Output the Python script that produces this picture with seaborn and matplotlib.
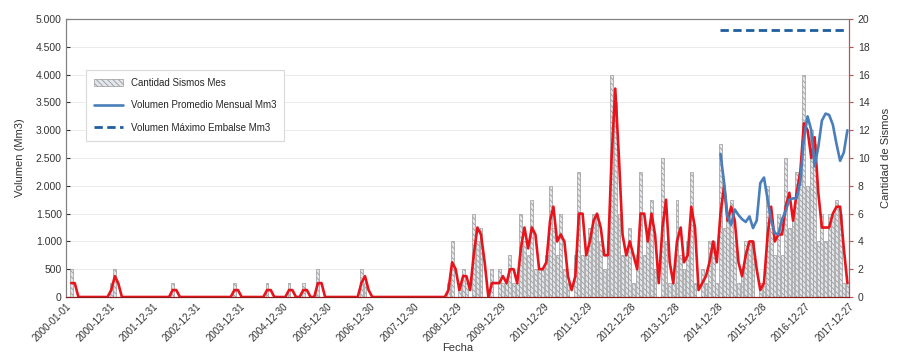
import pandas as pd
import matplotlib
matplotlib.use("Agg")
import matplotlib.pyplot as plt
import matplotlib.ticker as mticker
from matplotlib.patches import Patch
from matplotlib.lines import Line2D
import seaborn as sns

# monthly earthquake counts, 2000-02 .. 2017-12 (one row per year)
sismos_mes = (
    [2, 0, 0, 0, 0, 0, 0, 0, 0, 0, 0]                      # 2000 (Feb-Dec)
    + [1, 2, 0, 0, 0, 0, 0, 0, 0, 0, 0, 0]                 # 2001
    + [0, 0, 0, 0, 0, 1, 0, 0, 0, 0, 0, 0]                 # 2002
    + [0, 0, 0, 0, 0, 0, 0, 0, 0, 0, 1, 0]                 # 2003
    + [0, 0, 0, 0, 0, 0, 0, 1, 0, 0, 0, 0]                 # 2004
    + [0, 1, 0, 0, 0, 1, 0, 0, 0, 2, 0, 0]                 # 2005
    + [0, 0, 0, 0, 0, 0, 0, 0, 0, 2, 1, 0]                 # 2006
    + [0, 0, 0, 0, 0, 0, 0, 0, 0, 0, 0, 0]                 # 2007
    + [0, 0, 0, 0, 0, 0, 0, 0, 0, 1, 4, 0]                 # 2008
    + [1, 2, 1, 0, 6, 4, 5, 0, 0, 2, 0, 2]                 # 2009
    + [1, 1, 3, 1, 1, 6, 4, 3, 7, 2, 2, 2]                 # 2010
    + [3, 8, 5, 3, 6, 2, 1, 0, 3, 9, 3, 3]                 # 2011
    + [5, 6, 6, 4, 2, 4, 16, 14, 6, 3, 3, 5]               # 2012
    + [1, 3, 9, 3, 5, 7, 2, 0, 10, 4, 1, 1]                # 2013
    + [7, 3, 2, 4, 9, 1, 0, 2, 1, 4, 4, 1]                 # 2014
    + [11, 5, 6, 7, 4, 1, 2, 4, 4, 4, 0, 1]                # 2015
    + [1, 8, 5, 3, 6, 3, 10, 5, 6, 9, 9, 16]               # 2016
    + [8, 12, 11, 4, 6, 4, 6, 6, 7, 6, 1, 1]               # 2017
)

# red trend line (2-month moving average as drawn in the chart)
media_movil = (
    [1, 1, 0, 0, 0, 0, 0, 0, 0, 0, 0]
    + [0.5, 1.5, 1, 0, 0, 0, 0, 0, 0, 0, 0, 0]
    + [0, 0, 0, 0, 0, 0.5, 0.5, 0, 0, 0, 0, 0]
    + [0, 0, 0, 0, 0, 0, 0, 0, 0, 0, 0.5, 0.5]
    + [0, 0, 0, 0, 0, 0, 0, 0.5, 0.5, 0, 0, 0]
    + [0, 0.5, 0.5, 0, 0, 0.5, 0.5, 0, 0, 1, 1, 0]
    + [0, 0, 0, 0, 0, 0, 0, 0, 0, 1, 1.5, 0.5]
    + [0, 0, 0, 0, 0, 0, 0, 0, 0, 0, 0, 0]
    + [0, 0, 0, 0, 0, 0, 0, 0, 0, 0.5, 2.5, 2]
    + [0.5, 1.5, 1.5, 0.5, 3, 5, 4.5, 2.5, 0, 1, 1, 1]
    + [1.5, 1, 2, 2, 1, 3.5, 5, 3.5, 5, 4.5, 2, 2]
    + [2.5, 5.5, 6.5, 4, 4.5, 4, 1.5, 0.5, 1.5, 6, 6, 3]
    + [4, 5.5, 6, 5, 3, 3, 10, 15, 10, 4.5, 3, 4]
    + [3, 2, 6, 6, 4, 6, 4.5, 1, 5, 7, 2.5, 1]
    + [4, 5, 2.5, 3, 6.5, 5, 0.5, 1, 1.5, 2.5, 4, 2.5]
    + [6, 8, 5.5, 6.5, 5.5, 2.5, 1.5, 3, 4, 4, 2, 0.5]
    + [1, 4.5, 6.5, 4, 4.5, 4.5, 6.5, 7.5, 5.5, 7.5, 9, 12.5]
    + [12, 10, 11.5, 7.5, 5, 5, 5, 6, 6.5, 6.5, 3.5, 1]
)

# reservoir monthly mean volume (Mm3), 2015-01 .. 2017-12
volumen_promedio = [
    2575, 2050, 1450, 1300, 1575, 1475, 1400, 1350, 1450, 1240, 1375, 2050,
    2150, 1750, 1375, 1150, 1125, 1400, 1550, 1750, 1775, 1775, 2075, 2850,
    3250, 3000, 2350, 2700, 3175, 3300, 3275, 3100, 2750, 2450, 2600, 3000,
]
volumen_maximo = 4800

fechas = pd.date_range("2000-02-01", periods=len(sismos_mes), freq="MS") + pd.Timedelta(days=14)
fechas_vol = fechas[-len(volumen_promedio):]

sns.set_style("white")
plt.rcParams["font.family"] = ["Liberation Sans", "DejaVu Sans"]
plt.rcParams["hatch.linewidth"] = 0.6
plt.rcParams["hatch.color"] = "#7f8a99"

HATCH = "\\\\\\\\\\\\"
BAR_FACE = "#e3e7ec"

fig = plt.figure(figsize=(9.03, 3.54), dpi=100)
ax = fig.add_axes([0.073, 0.161, 0.867, 0.785])
ax2 = ax.twinx()
# volume axis drawn on top of the count bars
ax.set_zorder(ax2.get_zorder() + 1)
ax.patch.set_visible(False)

# counts on right axis
ax2.bar(fechas, sismos_mes, width=24, color=BAR_FACE, edgecolor="#9a9a9a",
        hatch=HATCH, linewidth=0.5, zorder=1)
sns.lineplot(x=fechas, y=media_movil, ax=ax2, color="#e8141b", lw=1.9, legend=False, zorder=3)

# volume lines on left axis
sns.lineplot(x=fechas_vol, y=volumen_promedio, ax=ax, color="#4a7ebb", lw=1.9, legend=False)
ax.plot([fechas_vol[0], fechas_vol[-1]], [volumen_maximo, volumen_maximo],
        color="#1f5f9e", lw=2, dashes=(3, 1.6))

ax.set_xlim(pd.Timestamp("2000-01-01"), pd.Timestamp("2017-12-27"))
ax.set_ylim(0, 5000)
ax2.set_ylim(0, 20)
ax.set_yticks(range(0, 5001, 500))
ax2.set_yticks(range(0, 21, 2))
ax.yaxis.set_major_formatter(mticker.FuncFormatter(lambda v, p: f"{v:,.0f}".replace(",", ".")))

xticks = pd.date_range("2000-01-01", "2017-12-27", freq="365D")
ax.set_xticks(xticks)
ax.set_xticklabels([d.strftime("%Y-%m-%d") for d in xticks], rotation=45,
                   ha="right", rotation_mode="anchor", fontsize=7, color="#333333")

# grid lives on the lower (count) axis so it stays behind everything
ax2.grid(True, color="#ebebeb", lw=0.7)
ax2.set_axisbelow(True)
ax.grid(False)
ax.tick_params(axis="y", direction="in", length=3, labelsize=7.5, colors="#333333", pad=3)
ax.tick_params(axis="x", length=0, pad=3)
ax2.tick_params(axis="y", direction="out", length=3, labelsize=7.5, color="#c0504d",
                labelcolor="#333333")

for a in (ax, ax2):
    a.spines["top"].set_color("#808080")
    a.spines["left"].set_color("#808080")
    a.spines["bottom"].set_color("#8b1a1a")
    a.spines["right"].set_color("#c0504d")

ax.set_ylabel("Volumen (Mm3)", fontsize=8, color="#333333", labelpad=8)
ax2.set_ylabel("Cantidad de Sismos", fontsize=8, color="#333333", labelpad=8)
ax.set_xlabel("Fecha", fontsize=8, color="#333333", labelpad=0)

handles = [
    Patch(facecolor=BAR_FACE, edgecolor="#9a9a9a", hatch=HATCH, lw=0.5),
    Line2D([], [], color="#4a7ebb", lw=1.9),
    Line2D([], [], color="#1f5f9e", lw=2, dashes=(3, 1.6)),
]
labels = ["Cantidad Sismos Mes", "Volumen Promedio Mensual Mm3", "Volumen Máximo Embalse Mm3"]
leg = ax.legend(handles, labels, loc="upper left", bbox_to_anchor=(0.02, 0.835),
                fontsize=7, labelspacing=1.3, handlelength=3, borderpad=0.8,
                fancybox=False, framealpha=1, edgecolor="#d9d9d9")
leg.get_frame().set_linewidth(0.8)

fig.savefig("out.png", dpi=100)
